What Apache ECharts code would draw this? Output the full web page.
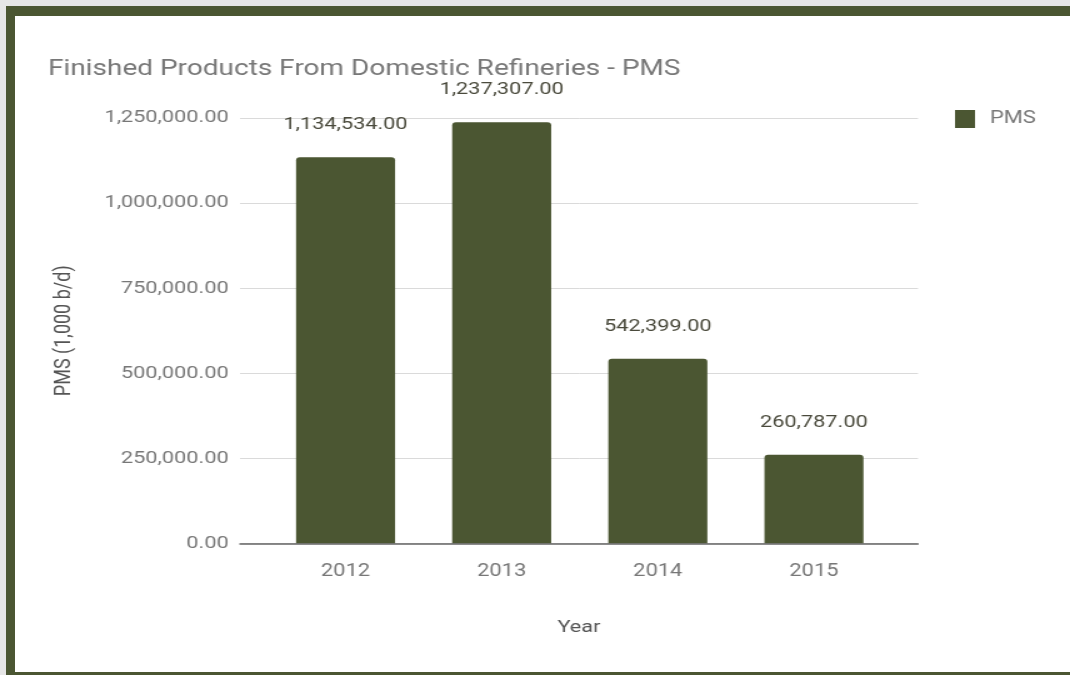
<!DOCTYPE html>
<html>
<head>
<meta charset="utf-8">
<script src="https://cdn.jsdelivr.net/npm/echarts@6/dist/echarts.min.js"></script>
<style>
  html, body { margin: 0; padding: 0; background: #e6e6e6; width: 1070px; height: 675px; overflow: hidden; }
  #frame { position: absolute; left: 6px; top: 6px; width: 1070px; height: 680px; background: #4b5632; }
  #inner { position: absolute; left: 15px; top: 16px; width: 1060px; height: 656px; background: #ffffff; }
  /* the reference picture is horizontally stretched; reproduce that with a horizontal scale */
  #chart { position: absolute; left: 0; top: 0; width: 856px; height: 675px; transform: scaleX(1.25); transform-origin: 0 0; }
</style>
</head>
<body>
<div id="frame"></div>
<div id="inner"></div>
<div id="chart"></div>
<script>
const titleText = 'Finished Products From Domestic Refineries - PMS';
const categories = ['2012', '2013', '2014', '2015'];
const seriesName = 'PMS';
const pmsValues = [1134534, 1237307, 542399, 260787];
const yTickValues = [0, 250000, 500000, 750000, 1000000, 1250000];
const yAxisTitle = 'PMS (1,000 b/d)';
const xAxisTitle = 'Year';

function fmt(v) {
  const s = Number(v).toFixed(2);
  const parts = s.split('.');
  parts[0] = parts[0].replace(/\B(?=(\d{3})+(?!\d))/g, ',');
  return parts.join('.');
}

const FONT = 'Roboto';
const gray = '#777777';
const barColor = '#4b5632';
const yMin = yTickValues[0];
const yMax = yTickValues[yTickValues.length - 1];
const yInterval = yTickValues[1] - yTickValues[0];

const chart = echarts.init(document.getElementById('chart'), null, { renderer: 'canvas' });
chart.setOption({
  animation: false,
  title: {
    text: titleText,
    left: 38.4, top: 58, padding: 0,
    textStyle: { fontFamily: FONT, fontSize: 22.4, fontWeight: 'normal', color: gray }
  },
  legend: {
    data: [seriesName],
    left: 764, top: 110, padding: 0,
    orient: 'vertical',
    icon: 'rect',
    itemWidth: 16, itemHeight: 18, itemGap: 10,
    textStyle: { fontFamily: FONT, fontSize: 17.5, color: gray, padding: [0, 0, 0, 7] }
  },
  grid: [
    { left: 192, right: 121.6, top: 118, bottom: 131.5, containLabel: false },
    { left: 214, right: 142.4, top: 118, bottom: 131.5, containLabel: false }
  ],
  xAxis: [
    {
      gridIndex: 0, type: 'category', data: categories,
      axisLine: { show: true, lineStyle: { color: '#666666', width: 1.5 } },
      axisTick: { show: false }, axisLabel: { show: false },
      name: xAxisTitle, nameLocation: 'middle', nameGap: 76,
      nameTextStyle: { fontFamily: FONT, fontSize: 17.4, color: '#555555' },
      z: 5
    },
    {
      gridIndex: 1, type: 'category', data: categories,
      axisLine: { show: false }, axisTick: { show: false },
      axisLabel: { fontFamily: FONT, fontSize: 17.5, color: gray, margin: 19 }
    }
  ],
  yAxis: [
    {
      gridIndex: 0, type: 'value', min: yMin, max: yMax, interval: yInterval,
      axisLine: { show: false }, axisTick: { show: false },
      axisLabel: { fontFamily: FONT, fontSize: 17.4, color: gray, margin: 9, formatter: fmt },
      splitLine: { show: true, lineStyle: { color: '#dadada', width: 1 } },
      name: yAxisTitle, nameLocation: 'middle', nameGap: 132, nameRotate: 90,
      nameTextStyle: { fontFamily: FONT, fontSize: 18, color: '#555555' }
    },
    {
      gridIndex: 1, type: 'value', min: yMin, max: yMax, interval: yInterval,
      show: false, splitLine: { show: false }
    }
  ],
  series: [
    {
      type: 'line', xAxisIndex: 0, yAxisIndex: 0, data: [], silent: true
    },
    {
      name: seriesName, type: 'bar', xAxisIndex: 1, yAxisIndex: 1,
      data: pmsValues, barWidth: 79.2,
      itemStyle: { color: barColor, borderRadius: [3, 3, 0, 0] },
      label: {
        show: true, position: 'top', distance: 24,
        fontFamily: FONT, fontSize: 17.4, color: '#4a4a3c',
        formatter: p => fmt(p.value)
      },
      z: 3
    }
  ]
});
</script>
</body>
</html>
